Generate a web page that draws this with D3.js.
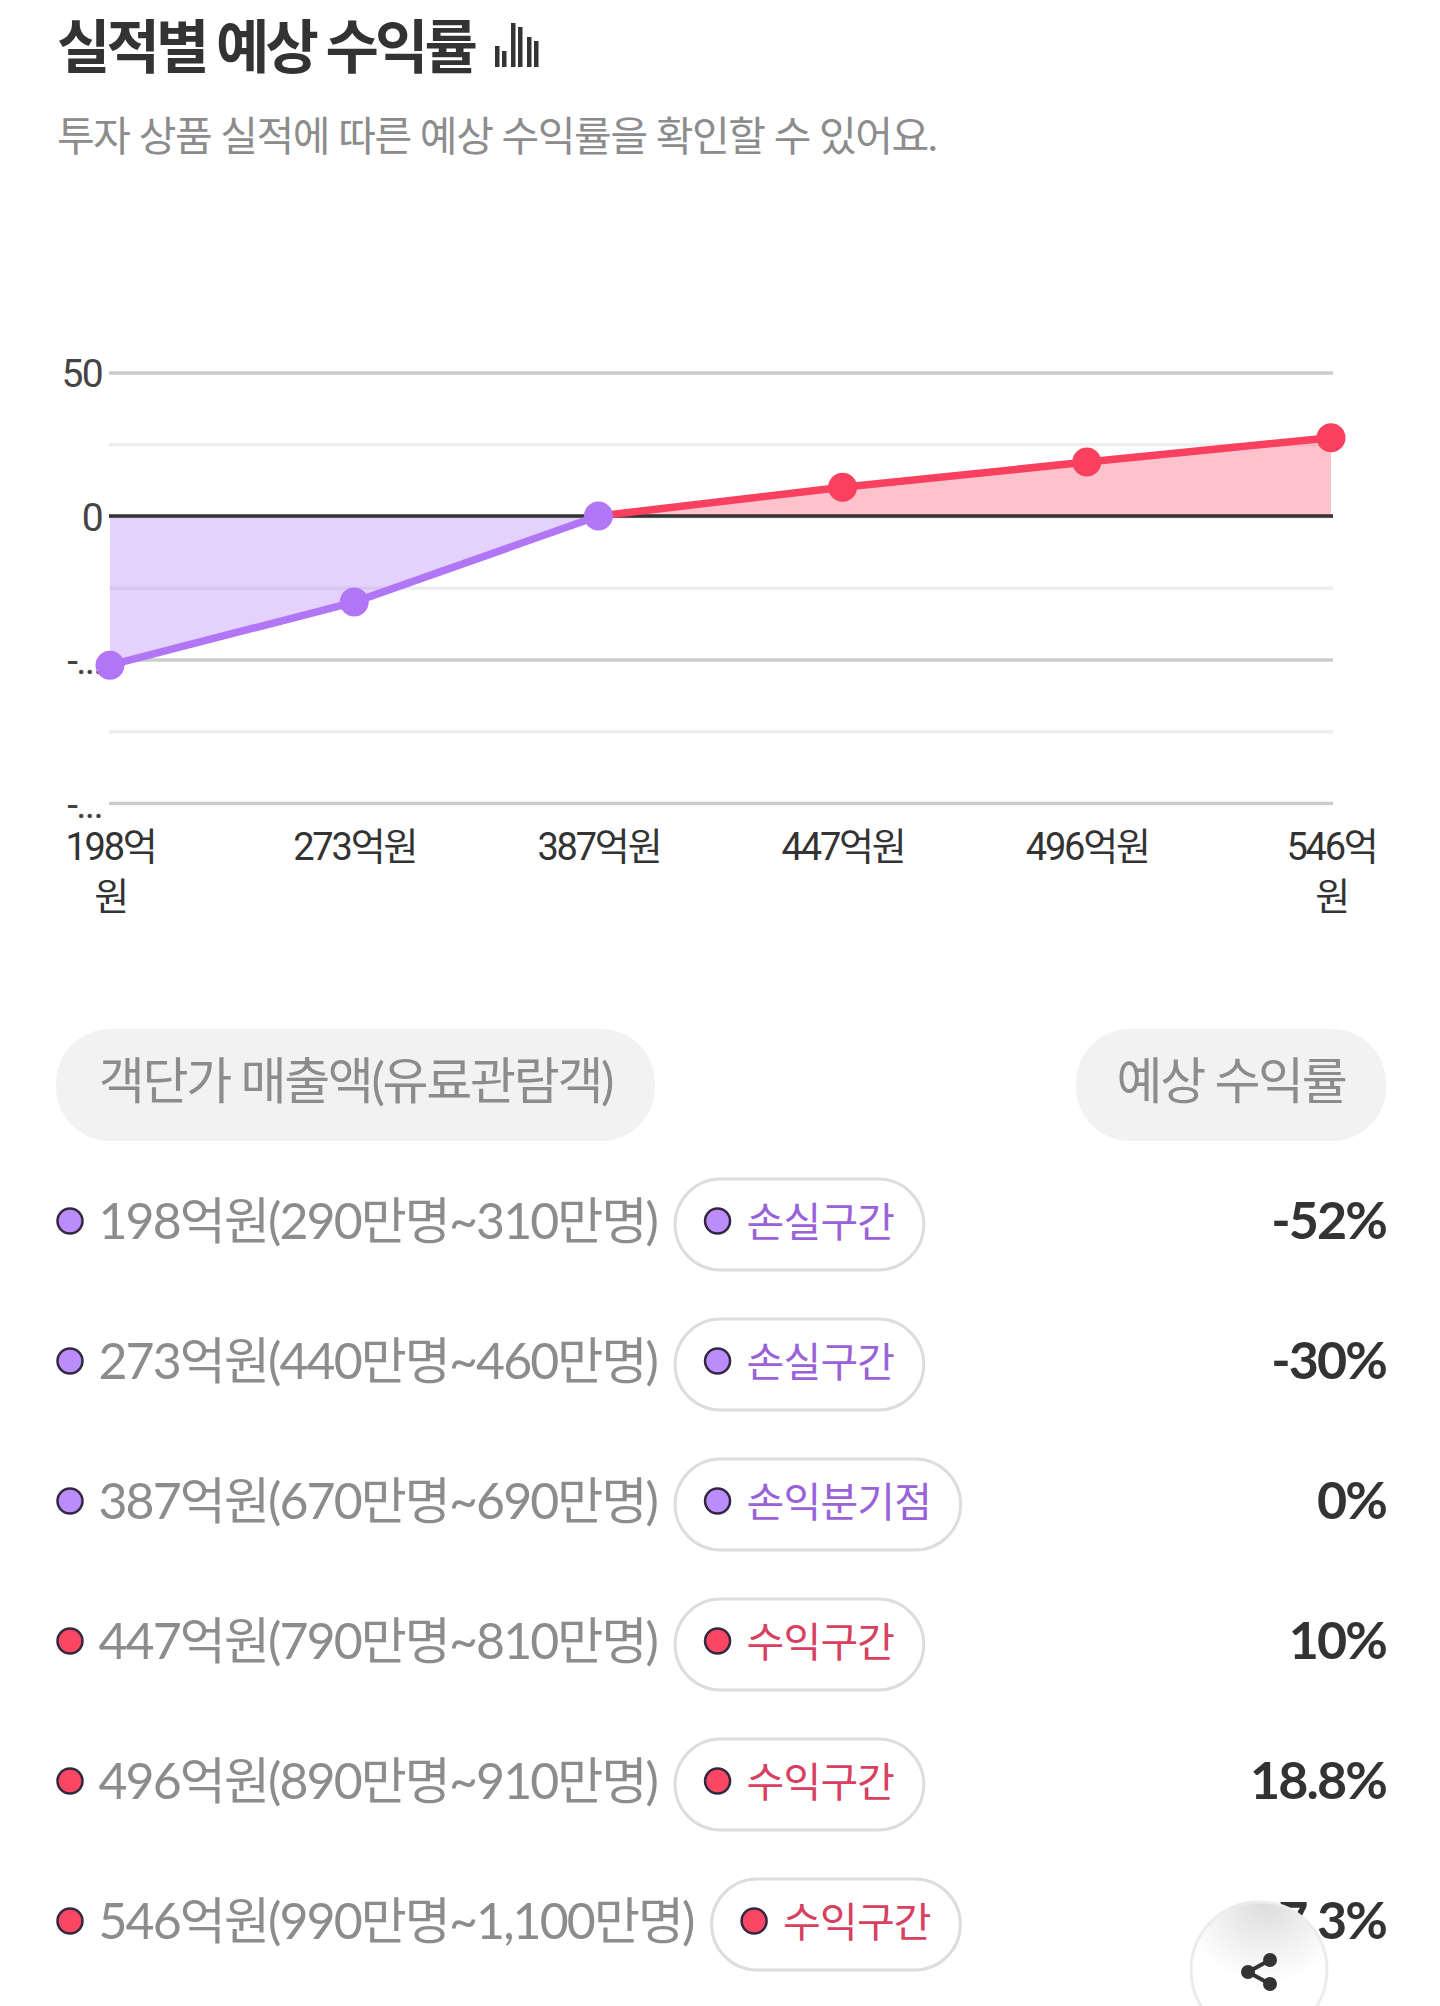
<!DOCTYPE html>
<html lang="ko">
  <head>
    <meta charset="utf-8">
    <title>실적별 예상 수익률</title>
    <script src="https://d3js.org/d3.v7.min.js"></script>
    <style>
      html, body { margin: 0; padding: 0; background: #fff; }
      svg { display: block; }
      text { font-family: Lato, "Noto Sans CJK KR", sans-serif; }
    </style>
  </head>
  <body>
    <script type="text/javascript">
    let categories = ["198억원", "273억원", "387억원", "447억원", "496억원", "546억원"];
    let returns = [-52, -30, 0, 10, 18.8, 27.3];
    let returnLabels = ["-52%", "-30%", "0%", "10%", "18.8%", "27.3%"];
    let audiences = ["290만명~310만명", "440만명~460만명", "670만명~690만명", "790만명~810만명", "890만명~910만명", "990만명~1,100만명"];
    let zones = ["손실구간", "손실구간", "손익분기점", "수익구간", "수익구간", "수익구간"];
    let yTicks = [-100, -75, -50, -25, 0, 25, 50];
    let yTickLabels = ["-...", "", "-...", "", "0", "", "50"];
    let iconBars = [21, 16, 44, 40, 30, 26];

    let w = 1440;
    let h = 2006;
    let purple = "#b076f5";
    let red = "#f9405f";

    let svg = d3.select("body")
                .append("svg")
                .attr("width", w)
                .attr("height", h);

    // HEADER
    svg.append("text")
       .attr("x", 57).attr("y", 68)
       .attr("font-size", 58).attr("font-weight", 700)
       .attr("fill", "#333")
       .attr("letter-spacing", -3.8)
       .text("실적별 예상 수익률");

    // bars come in pairs, a little gap between the pairs
    svg.selectAll(".icon")
       .data(iconBars)
       .enter()
       .append("rect")
       .attr("class", "icon")
       .attr("x", (d, i) => 495 + i * 7 + Math.floor(i / 2) * 2)
       .attr("y", d => 67 - d)
       .attr("width", 4.5)
       .attr("height", d => d)
       .attr("fill", "#333");

    svg.append("text")
       .attr("x", 57).attr("y", 151)
       .attr("font-size", 41).attr("font-weight", 400)
       .attr("fill", "#8c8c8c")
       .attr("letter-spacing", -1.43)
       .text("투자 상품 실적에 따른 예상 수익률을 확인할 수 있어요.");

    // CHART
    let xScale = d3.scalePoint()
                   .domain(categories)
                   .range([110, 1331]);

    let yScale = d3.scaleLinear()
                   .domain([-100, 50])
                   .range([803, 372.5]);

    let yAxis = d3.axisLeft(yScale)
                  .tickValues(yTicks)
                  .tickSize(-1224)
                  .tickPadding(7)
                  .tickFormat((d, i) => yTickLabels[i]);

    let yG = svg.append("g")
                .attr("transform", "translate(109,0)")
                .call(yAxis);

    yG.select(".domain").remove();
    yG.selectAll(".tick line")
      .attr("stroke", (d, i) => i % 2 ? "#eeeeee" : "#cccccc")
      .attr("stroke-width", 3.5);
    yG.selectAll(".tick text")
      .attr("font-size", 39)
      .attr("fill", "#444")
      .attr("dy", "0.36em")
      .attr("letter-spacing", -1.7)
      .style("font-family", "Roboto, sans-serif")
      .style("font-weight", 400);

    let rows = categories.map((c, i) => ({ c: c, v: returns[i], i: i }));
    let lossRows = rows.filter(d => d.v <= 0);
    let gainRows = rows.filter(d => d.v >= 0);

    let area = d3.area()
                 .x(d => xScale(d.c))
                 .y0(yScale(0))
                 .y1(d => yScale(d.v));

    let line = d3.line()
                 .x(d => xScale(d.c))
                 .y(d => yScale(d.v));

    svg.append("path").attr("d", area(lossRows)).attr("fill", purple).attr("fill-opacity", 0.33);
    svg.append("path").attr("d", area(gainRows)).attr("fill", red).attr("fill-opacity", 0.32);

    svg.append("line")
       .attr("x1", 109).attr("x2", 1333)
       .attr("y1", yScale(0)).attr("y2", yScale(0))
       .attr("stroke", "#333")
       .attr("stroke-width", 3.5);

    svg.append("path").attr("d", line(gainRows)).attr("fill", "none").attr("stroke", red).attr("stroke-width", 7.5);
    svg.append("path").attr("d", line(lossRows)).attr("fill", "none").attr("stroke", purple).attr("stroke-width", 7.5);

    svg.selectAll(".point")
       .data(rows)
       .enter()
       .append("circle")
       .attr("class", "point")
       .attr("cx", d => xScale(d.c))
       .attr("cy", d => yScale(d.v))
       .attr("r", 14.5)
       .attr("fill", d => d.v <= 0 ? purple : red);

    // x labels wrap on the first and last one, like the original
    let xAxis = d3.axisBottom(xScale).tickSize(0).tickPadding(0).tickFormat("");
    let xG = svg.append("g").attr("transform", "translate(0,803)").call(xAxis);
    xG.select(".domain").remove();
    xG.selectAll(".tick text").remove();
    xG.selectAll(".tick").each(function(d, i) {
      let wrap = i === 0 || i === categories.length - 1;
      let parts = wrap ? [d.slice(0, -1), d.slice(-1)] : [d];
      d3.select(this).selectAll("text")
        .data(parts)
        .enter()
        .append("text")
        .attr("y", (p, j) => 57 + j * 49.5)
        .attr("text-anchor", "middle")
        .attr("font-size", 38)
        .attr("fill", "#333")
        .attr("letter-spacing", -2.2)
        .style("font-family", "Roboto, 'Noto Sans CJK KR', sans-serif")
        .style("font-weight", 400)
        .text(p => p);
    });

    // TABLE HEAD
    let heads = [
      { label: "객단가 매출액(유료관람객)", x: 56, width: 599 },
      { label: "예상 수익률", x: 1076, width: 310 }
    ];
    let headG = svg.selectAll(".head").data(heads).enter().append("g").attr("class", "head");
    headG.append("rect")
         .attr("x", d => d.x).attr("y", 1029)
         .attr("width", d => d.width).attr("height", 112)
         .attr("rx", 54).attr("fill", "#f2f2f2");
    headG.append("text")
         .attr("x", d => d.x + d.width / 2).attr("y", 1099)
         .attr("text-anchor", "middle")
         .attr("font-size", 50).attr("font-weight", 400)
         .attr("letter-spacing", -2.3)
         .attr("fill", "#8c8c8c")
         .text(d => d.label);

    // TABLE ROWS
    let rowY = d3.scalePoint().domain(d3.range(rows.length)).range([1221, 1921]);
    let rowG = svg.selectAll(".row").data(rows).enter().append("g").attr("class", "row")
                  .attr("transform", d => "translate(0," + rowY(d.i) + ")");

    function dot(sel, x) {
      sel.append("circle")
         .attr("cx", x).attr("r", 12.5)
         .attr("fill", d => d.v <= 0 ? "#bb8cfb" : "#fb4763")
         .attr("stroke", "#33283f")
         .attr("stroke-width", 2.5);
    }

    dot(rowG, 70);
    rowG.append("text")
        .attr("class", "label")
        .attr("x", 98.5).attr("y", 18)
        .attr("font-size", 50).attr("font-weight", 400)
        .attr("letter-spacing", -1.9)
        .attr("fill", "#8c8c8c")
        .text(d => d.c + "(" + audiences[d.i] + ")");

    // badge starts right after the label text, so measure it
    let badge = rowG.append("g").attr("transform", function() {
      let t = d3.select(this.parentNode).select(".label").node();
      return "translate(" + (t.getBBox().x + t.getBBox().width + 16) + ",0)";
    });
    dot(badge, 44);
    let badgeText = badge.append("text")
        .attr("x", 73).attr("y", 16)
        .attr("font-size", 41).attr("font-weight", 400)
        .attr("letter-spacing", -0.8)
        .attr("fill", d => d.v <= 0 ? "#9a62d8" : "#d8405f")
        .text(d => zones[d.i]);
    badge.insert("rect", "circle")
        .attr("x", 1.5).attr("y", -42)
        .attr("height", 91).attr("rx", 45.5)
        .attr("width", function() {
          let t = d3.select(this.parentNode).select("text").node();
          return t.getBBox().width + 73 + 28;
        })
        .attr("fill", "#fff").attr("stroke", "#dddddd").attr("stroke-width", 3);

    rowG.append("text")
        .attr("x", 1386).attr("y", 18)
        .attr("text-anchor", "end")
        .attr("font-size", 52).attr("font-weight", 700)
        .attr("letter-spacing", -1.9)
        .attr("fill", "#333")
        .text(d => returnLabels[d.i]);

    // SHARE BUTTON
    let defs = svg.append("defs");
    let grad = defs.append("radialGradient").attr("id", "shareFill")
                   .attr("cx", "0.55").attr("cy", "0").attr("r", "0.6");
    grad.append("stop").attr("offset", "0").attr("stop-color", "#dcdcdc");
    grad.append("stop").attr("offset", "1").attr("stop-color", "#ffffff");

    let share = svg.append("g").attr("transform", "translate(1259,1970)");
    share.append("circle").attr("r", 68).attr("fill", "url(#shareFill)").attr("stroke", "#ececec").attr("stroke-width", 3);
    share.append("path").attr("d", "M11,-10L-11,2L11,14").attr("fill", "none").attr("stroke", "#333").attr("stroke-width", 4);
    share.selectAll(".node").data([[11, -10], [-11, 2], [11, 14]]).enter().append("circle")
         .attr("cx", d => d[0]).attr("cy", d => d[1]).attr("r", 7).attr("fill", "#333");
    </script>
  </body>
</html>
